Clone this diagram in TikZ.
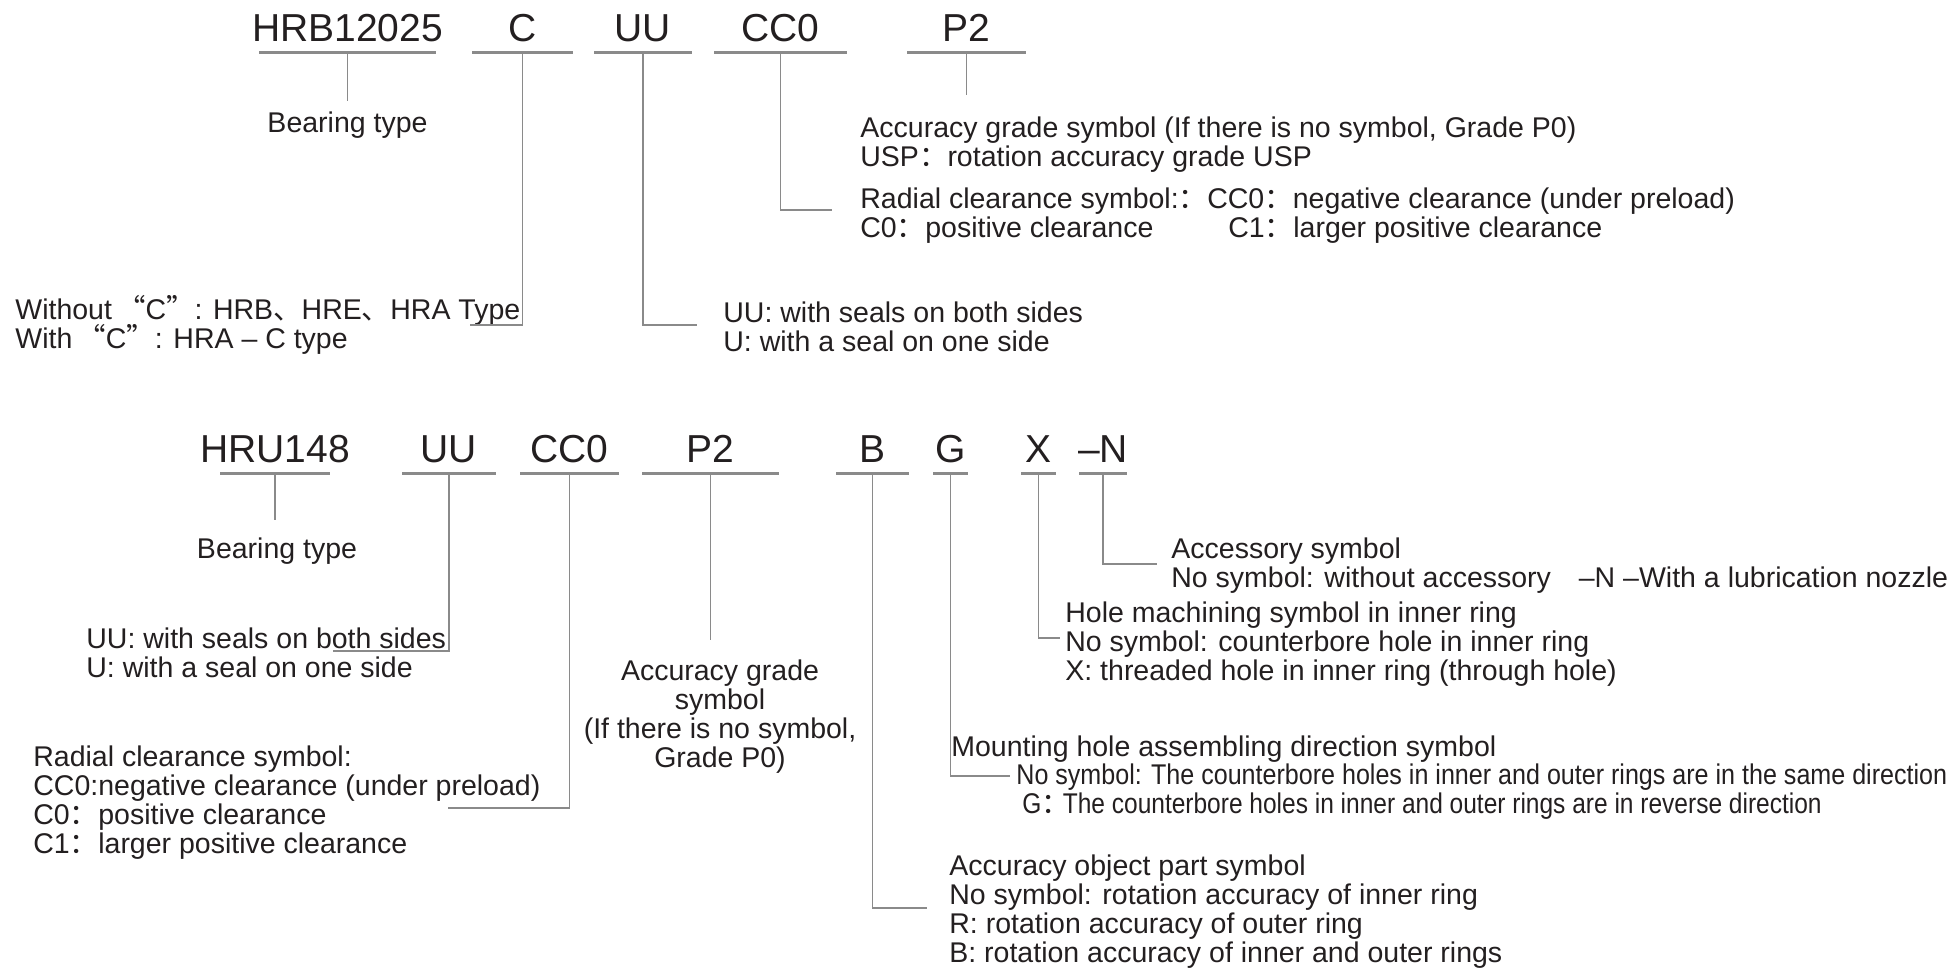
\documentclass[tikz,border=0pt]{standalone}
\usepackage{fontspec}
\setmainfont{Liberation Sans}
\newfontfamily\cjk{Noto Sans CJK SC}
\newfontfamily\narrowA{Liberation Sans}[FakeStretch=0.88]
\newfontfamily\narrowB{Liberation Sans}[FakeStretch=0.86]
\definecolor{txt}{HTML}{231F20}
\definecolor{ln}{HTML}{8A8A8A}
\newcommand{\qcolon}{\smash{\cjk ：}}
\newcommand{\qcolonnarrow}{\makebox[0.75em][l]{\smash{\cjk ：}}}
\newcommand{\cjkoq}{\smash{\cjk “}}
\newcommand{\cjkcq}{\smash{\cjk ”}}
\newcommand{\cjkdun}{\smash{\cjk 、}}
\tikzset{
  code/.style={font=\fontsize{19.5}{19.5}\selectfont, text=txt, inner sep=0pt, anchor=base, text depth=5.5pt},
  lbl/.style={font=\fontsize{14.25}{14.5}\selectfont, text=txt, inner sep=0pt, align=left, anchor=north west},
  ul/.style={draw=ln, line width=1.1pt},
  lead/.style={draw=ln, line width=0.6pt}
}
\begin{document}
\begin{tikzpicture}[x=0.5pt,y=-0.5pt]
\useasboundingbox (0,0) rectangle (1955,970);
\fill[white] (0,0) rectangle (1955,970);

% ---------------- top row ----------------
\node[code] (hrb) at (347.5,41) {HRB12025};
\node[code] (c1)  at (522.5,41) {C};
\node[code] (uu1) at (643,41) {UU};
\node[code] (cz1) at (780.5,41) {CC0};
\node[code] (p21) at (966.5,41) {P2};
\draw[ul] (hrb.south) ++(-88.5,0) -- ++(177,0);
\draw[ul] (c1.south) ++(-50.5,0) -- ++(101,0);
\draw[ul] (uu1.south) ++(-49,0) -- ++(98,0);
\draw[ul] (cz1.south) ++(-66.5,0) -- ++(133,0);
\draw[ul] (p21.south) ++(-59.5,0) -- ++(119,0);

\node[lbl, anchor=north, align=center] (bt1) at (347.5,111) {Bearing type};
\draw[lead] (hrb.south) -- ([yshift=5pt]bt1.north);

\node[lbl] (wc) at (15,298) {Without\hspace{2.5pt}\cjkoq C\cjkcq: HRB\cjkdun HRE\cjkdun HRA Type\\With\hspace{2.5pt}\cjkoq C\cjkcq: HRA – C type};
\coordinate (c1e) at (470,325);
\draw[lead] (c1.south) |- (c1e);

\node[lbl] (uu1t) at (723,301) {UU: with seals on both sides\\U: with a seal on one side};
\coordinate (uu1e) at (697,325);
\draw[lead] (uu1.south) |- (uu1e);

\node[lbl] (p21t) at (860,116) {Accuracy grade symbol (If there is no symbol, Grade P0)\\USP\qcolon rotation accuracy grade USP};
\draw[lead] (p21.south) -- ([yshift=10.5pt]p21.south |- p21t.north);

\node[lbl] (cz1t) at (860,187) {Radial clearance symbol:\qcolon CC0\qcolon negative clearance (under preload)\\\makebox[184pt][l]{C0\qcolon positive clearance}C1\qcolon larger positive clearance};
\coordinate (cz1e) at (832,210);
\draw[lead] (cz1.south) |- (cz1e);

% ---------------- bottom row ----------------
\node[code] (hru) at (275,462) {HRU148};
\node[code] (uu2) at (449,462) {UU};
\node[code] (cz2) at (569.5,462) {CC0};
\node[code] (p22) at (710.5,462) {P2};
\node[code] (bb)  at (872.5,462) {B};
\node[code] (gg)  at (950.5,462) {G};
\node[code] (xx)  at (1038.5,462) {X};
\node[code] (nn)  at (1103,462) {–N};
\draw[ul] (hru.south) ++(-55,0) -- ++(110,0);
\draw[ul] (uu2.south) ++(-47,0) -- ++(94,0);
\draw[ul] (cz2.south) ++(-49.5,0) -- ++(99,0);
\draw[ul] (p22.south) ++(-68.5,0) -- ++(137,0);
\draw[ul] (bb.south) ++(-36.5,0) -- ++(73,0);
\draw[ul] (gg.south) ++(-17.5,0) -- ++(35,0);
\draw[ul] (xx.south) ++(-17.5,0) -- ++(35,0);
\draw[ul] (nn.south) ++(-24,0) -- ++(48,0);

\node[lbl, anchor=north, align=center] (bt2) at (277,537) {Bearing type};
\draw[lead] (hru.south) -- ([yshift=8.5pt]hru.south |- bt2.north);

\node[lbl] (uu2t) at (86,627) {UU: with seals on both sides\\U: with a seal on one side};
\coordinate (uu2e) at (333,651);
\draw[lead] (uu2.south) |- (uu2e);

\node[lbl] (cz2t) at (33,745) {Radial clearance symbol:\\CC0:negative clearance (under preload)\\C0\qcolon positive clearance\\C1\qcolon larger positive clearance};
\coordinate (cz2e) at (448,808);
\draw[lead] (cz2.south) |- (cz2e);

\node[lbl, anchor=north, align=center] (p22t) at (720,659) {Accuracy grade\\symbol\\(If there is no symbol,\\Grade P0)};
\draw[lead] (p22.south) -- ([yshift=9.5pt]p22.south |- p22t.north);

\node[lbl] (bbt) at (949,854) {Accuracy object part symbol\\No symbol: rotation accuracy of inner ring\\R: rotation accuracy of outer ring\\B: rotation accuracy of inner and outer rings};
\coordinate (bbe) at (927,908);
\draw[lead] (bb.south) |- (bbe);

\node[lbl] (gt1) at (951,735) {Mounting hole assembling direction symbol};
\node[lbl, font=\fontsize{14.25}{14.5}\narrowA] (gt2) at (1016,763) {No symbol: The counterbore holes in inner and outer rings are in the same direction};
\node[lbl, font=\fontsize{14.25}{14.5}\narrowB] (gt3) at (1022,792) {G\qcolonnarrow The counterbore holes in inner and outer rings are in reverse direction};
\coordinate (gge) at (1010,776);
\draw[lead] (gg.south) |- (gge);

\node[lbl] (xt) at (1065,601) {Hole machining symbol in inner ring\\No symbol: counterbore hole in inner ring\\X: threaded hole in inner ring (through hole)};
\coordinate (xxe) at (1060,638);
\draw[lead] (xx.south) |- (xxe);

\node[lbl] (nt) at (1171,537) {Accessory symbol\\No symbol: without accessory\hspace{10pt} –N –With a lubrication nozzle};
\coordinate (nne) at (1157,564);
\draw[lead] (nn.south) |- (nne);
\end{tikzpicture}
\end{document}
